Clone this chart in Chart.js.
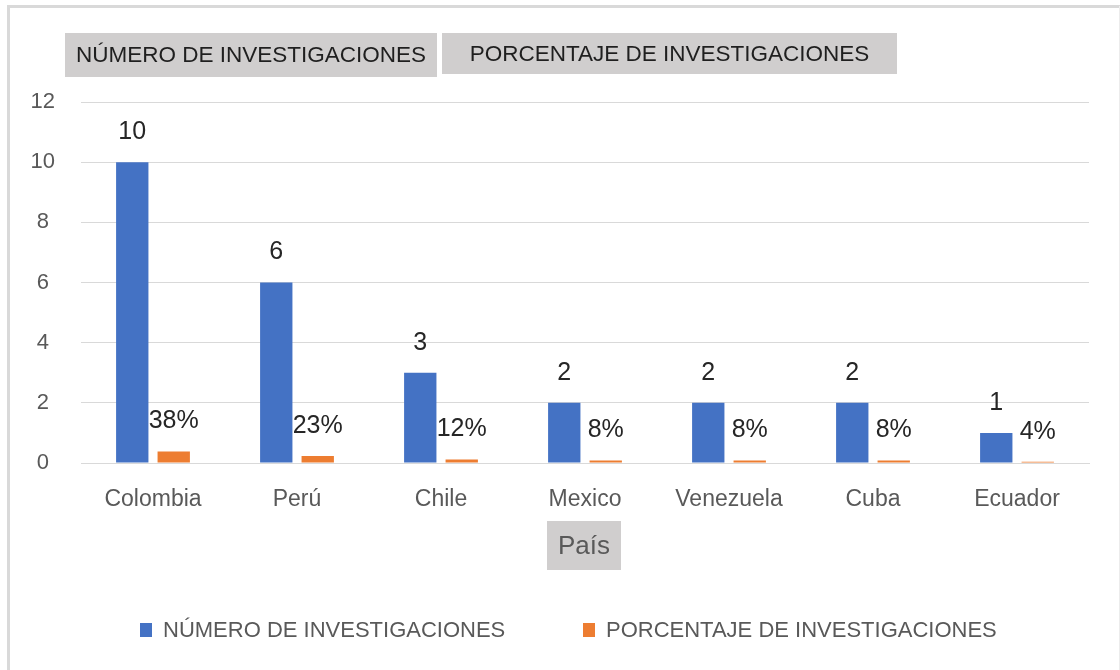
<!DOCTYPE html>
<html>
<head>
<meta charset="utf-8">
<script src="https://cdn.jsdelivr.net/npm/chart.js@4/dist/chart.umd.min.js"></script>
<style>
  html, body { margin: 0; padding: 0; background: #fff; }
  #wrap { width: 1120px; height: 670px; position: relative; }
</style>
</head>
<body>
<div id="wrap"><canvas id="chart" width="1120" height="670"></canvas></div>
<script>
const paises = ['Colombia', 'Perú', 'Chile', 'Mexico', 'Venezuela', 'Cuba', 'Ecuador'];
const numeroInvestigaciones = [10, 6, 3, 2, 2, 2, 1];
const porcentajeInvestigaciones = [0.38, 0.23, 0.12, 0.08, 0.08, 0.08, 0.04];
const yTicks = [0, 2, 4, 6, 8, 10, 12];
const serieNombres = ['NÚMERO DE INVESTIGACIONES', 'PORCENTAJE DE INVESTIGACIONES'];
const ejeTitulo = 'País';

const FONT = '"Liberation Sans", Arial, sans-serif';
const GRAY_TEXT = '#595959';
const BOX_FILL = '#d0cece';

// etiquetas de datos encima de cada barra
const dataLabels = {
    id: 'dataLabels',
    afterDatasetsDraw(chart) {
        const ctx = chart.ctx;
        ctx.save();
        ctx.font = '25px ' + FONT;
        ctx.fillStyle = '#262626';
        ctx.textAlign = 'center';
        ctx.textBaseline = 'middle';
        chart.data.datasets.forEach((ds, i) => {
            chart.getDatasetMeta(i).data.forEach((bar, j) => {
                const v = ds.data[j];
                const txt = i === 0 ? String(v) : Math.round(v * 100) + '%';
                ctx.fillText(txt, bar.x, bar.y - 30);
            });
        });
        ctx.restore();
    }
};

// marco, botones grises de campo y leyenda
const decor = {
    id: 'decor',
    afterDraw(chart) {
        const ctx = chart.ctx;
        ctx.save();

        ctx.strokeStyle = '#d9d9d9';
        ctx.lineWidth = 3;
        ctx.beginPath();
        ctx.moveTo(8.5, 670);
        ctx.lineTo(8.5, 6.5);
        ctx.lineTo(1120, 6.5);
        ctx.stroke();
        ctx.lineWidth = 1;
        ctx.strokeStyle = '#ececec';
        ctx.beginPath();
        ctx.moveTo(1119.5, 6);
        ctx.lineTo(1119.5, 670);
        ctx.stroke();

        const box = (x, y, w, h, text, size, color) => {
            ctx.fillStyle = BOX_FILL;
            ctx.fillRect(x, y, w, h);
            ctx.fillStyle = color;
            ctx.font = size + 'px ' + FONT;
            ctx.textAlign = 'center';
            ctx.textBaseline = 'middle';
            ctx.fillText(text, x + w / 2, y + h / 2 + 1);
        };
        box(65, 33, 372, 44, serieNombres[0], 22.5, '#1f1f1f');
        box(442, 33, 455, 41, serieNombres[1], 22.5, '#1f1f1f');
        box(547, 521, 74, 49, ejeTitulo, 26, GRAY_TEXT);

        const items = [{ x: 140, tx: 163 }, { x: 583, tx: 606 }];
        ctx.font = '22px ' + FONT;
        ctx.textAlign = 'left';
        ctx.textBaseline = 'middle';
        chart.data.datasets.forEach((ds, i) => {
            ctx.fillStyle = ds.backgroundColor;
            ctx.fillRect(items[i].x, 623, 12, 14);
            ctx.fillStyle = GRAY_TEXT;
            ctx.fillText(ds.label, items[i].tx, 631);
        });

        ctx.restore();
    }
};

new Chart(document.getElementById('chart').getContext('2d'), {
    type: 'bar',
    data: {
        labels: paises,
        datasets: [
            {
                label: serieNombres[0],
                data: numeroInvestigaciones,
                backgroundColor: '#4472C4',
                categoryPercentage: 0.576,
                barPercentage: 0.78,
            },
            {
                label: serieNombres[1],
                data: porcentajeInvestigaciones,
                backgroundColor: '#ED7D31',
                categoryPercentage: 0.576,
                barPercentage: 0.78,
            }
        ]
    },
    options: {
        responsive: false,
        animation: false,
        layout: { padding: { left: 0, right: 31, top: 102, bottom: 0 } },
        plugins: {
            legend: { display: false },
            tooltip: { enabled: false }
        },
        scales: {
            x: {
                grid: { display: false, drawTicks: false },
                border: { color: '#d9d9d9', width: 1 },
                ticks: {
                    color: GRAY_TEXT,
                    font: { family: FONT, size: 23 },
                    padding: 23
                },
                afterFit: (s) => { s.height = 207; }
            },
            y: {
                min: 0,
                max: 12,
                afterBuildTicks: (s) => { s.ticks = yTicks.map(v => ({ value: v })); },
                grid: { color: '#d9d9d9', lineWidth: 1, drawTicks: false },
                border: { display: false },
                ticks: {
                    color: GRAY_TEXT,
                    font: { family: FONT, size: 22 },
                    padding: 26,
                    crossAlign: 'center'
                },
                afterFit: (s) => { s.width = 81; }
            }
        }
    },
    plugins: [dataLabels, decor]
});
</script>
</body>
</html>
